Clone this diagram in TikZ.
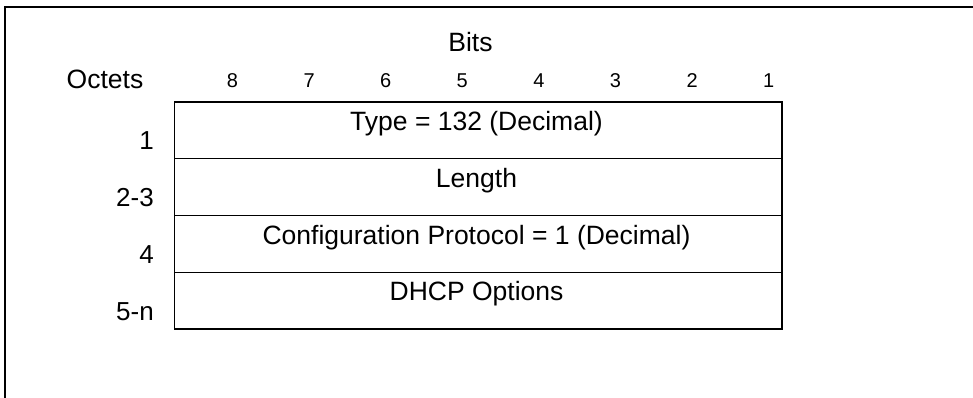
\documentclass[tikz,border=0pt]{standalone}
\usepackage{fontspec}
\setmainfont{Liberation Sans}
\begin{document}
\begin{tikzpicture}[x=1pt,y=-1pt,
  lbl/.style={anchor=base, inner sep=0pt, font=\fontsize{26.5}{30}\selectfont},
  octlbl/.style={anchor=base east, inner sep=0pt, font=\fontsize{26}{30}\selectfont},
  bitnum/.style={anchor=base, inner sep=0pt, font=\fontsize{20}{23}\selectfont},
  rowbox/.style={draw, line width=1.8pt, minimum width=607.2pt, minimum height=56.9pt, inner sep=0pt},
  frameline/.style={line width=2.5pt}]
\useasboundingbox (0,0) rectangle (973,398);
\draw[frameline] (973,7) -- (5,7) -- (5,398);

% header
\node[lbl] (bits) at (470.5,52) {Bits};
\node[lbl] (octets) at (105,89) {Octets};
\foreach \b [count=\i from 0] in {8,7,6,5,4,3,2,1} {
  \node[bitnum] (bit\b) at (232.5+76.6*\i,87.3) {\b};
}

% rows
\node[rowbox] (r1) at (478.1,130.15) {};
\node[rowbox] (r2) at (478.1,187.05) {};
\node[rowbox] (r3) at (478.1,243.95) {};
\node[rowbox] (r4) at (478.1,300.85) {};

\node[lbl] (t1) at (476.5,130.2) {Type = 132 (Decimal)};
\node[lbl] (t2) at (476.5,187.1) {Length};
\node[lbl] (t3) at (476.5,244.0) {Configuration Protocol = 1 (Decimal)};
\node[lbl] (t4) at (476.5,300.9) {DHCP Options};

\node[octlbl] (o1) at (154,149.7) {1};
\node[octlbl] (o2) at (154,206.6) {2-3};
\node[octlbl] (o3) at (154,263.5) {4};
\node[octlbl] (o4) at (154,320.4) {5-n};
\end{tikzpicture}
\end{document}
